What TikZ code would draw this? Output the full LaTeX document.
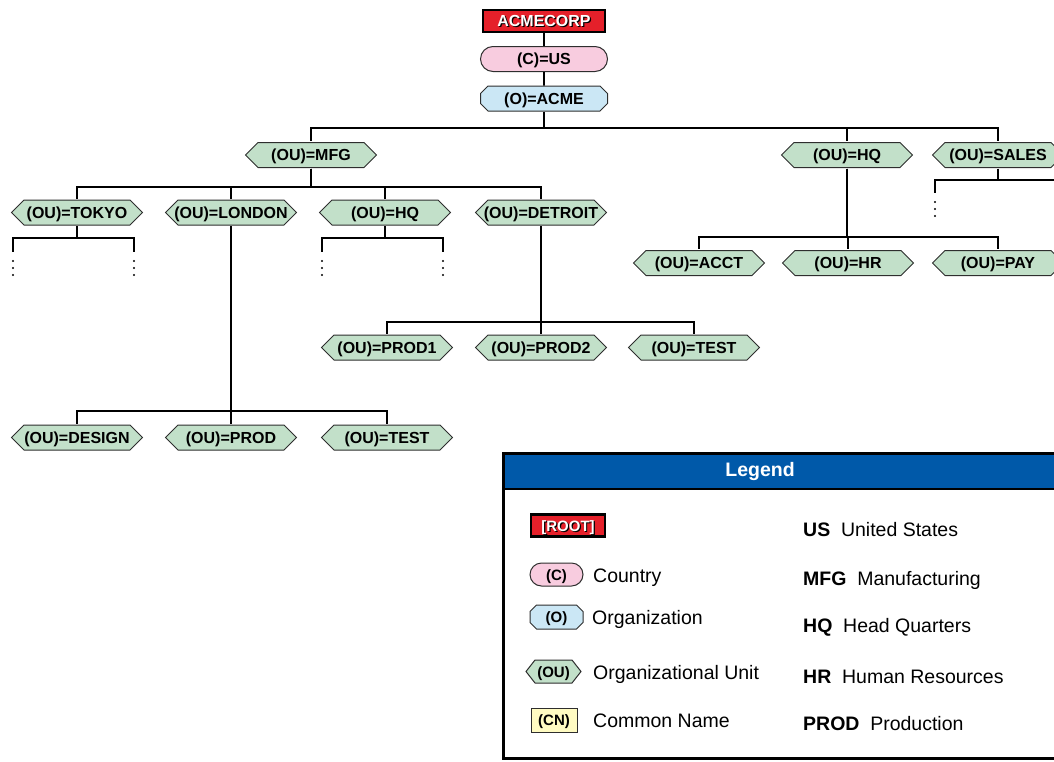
\documentclass[tikz,border=0pt]{standalone}
\usepackage{fontspec}
\setmainfont{Liberation Sans}
\usetikzlibrary{shapes.misc}

\definecolor{rootred}{HTML}{E5202A}
\definecolor{cpink}{HTML}{F8CCDF}
\definecolor{oblue}{HTML}{CBE7F5}
\definecolor{ougreen}{HTML}{C2E0C9}
\definecolor{cnyellow}{HTML}{FFFBC2}
\definecolor{legblue}{HTML}{0059A9}
\definecolor{edge}{HTML}{2E2E2E}

\newcommand\nodefont{\fontsize{16}{18}\selectfont\bfseries}
\newcommand\smallnodefont{\fontsize{15}{17}\selectfont\bfseries}
\newcommand\legfont{\fontsize{19.5}{22}\selectfont}
% white lettering with a dark offset copy behind it
\newcommand\shadowtxt[1]{\makebox[0pt][l]{\kern1.2pt\raisebox{-1.2pt}{\textcolor{black}{#1}}}\textcolor{white}{#1}}
% pointed (hexagonal) outline drawn inside the node's box; #1 = depth of the points
\newcommand\hexfill[1]{%
  \filldraw[fill=ougreen, draw=edge, line width=1pt]
    ([xshift=1pt]path picture bounding box.west)
 -- ([xshift=#1, yshift=-1pt]path picture bounding box.north west)
 -- ([xshift=-#1, yshift=-1pt]path picture bounding box.north east)
 -- ([xshift=-1pt]path picture bounding box.east)
 -- ([xshift=-#1, yshift=1pt]path picture bounding box.south east)
 -- ([xshift=#1, yshift=1pt]path picture bounding box.south west)
 -- cycle;}

\tikzset{
  base/.style={font=\nodefont, inner sep=0pt, text height=11.5pt, text depth=0pt},
  rootbox/.style={base, rectangle, fill=rootred, draw=black, line width=2.5pt,
    minimum width=122pt, minimum height=22pt},
  pill/.style={base, rounded rectangle, fill=cpink, draw=edge, line width=1pt,
    minimum width=127pt, minimum height=25pt},
  org/.style={base, chamfered rectangle, chamfered rectangle xsep=4pt,
    fill=oblue, draw=edge, line width=1pt, minimum width=127pt, minimum height=25pt},
  ou/.style={base, rectangle, minimum width=133pt, minimum height=27pt,
    path picture={\hexfill{#1}}},
  ou/.default=13.5pt,
  cn/.style={base, rectangle, fill=cnyellow, draw=edge, line width=1pt,
    minimum width=46pt, minimum height=24pt},
  tree/.style={line width=1.8pt, draw=black},
  dot/.style={fill=black},
  legtext/.style={font=\legfont, inner sep=0pt, anchor=west, text height=14pt, text depth=0pt},
}

\begin{document}
\begin{tikzpicture}[x=1pt, y=-1pt]
\useasboundingbox (0,0) rectangle (1054,761);
\clip (0,0) rectangle (1054,761);

% ---------- directory tree ----------
\node[rootbox] (corp) at (544,21) {\shadowtxt{ACMECORP}};
\node[pill] (us) at (544,59) {(C)=US};
\node[org] (acme) at (544,98.5) {(O)=ACME};

\node[ou] (mfg) at (311,155) {(OU)=MFG};
\node[ou] (hqr) at (847,155) {(OU)=HQ};
\node[ou] (sales) at (998,155) {(OU)=SALES};

\node[ou] (tokyo) at (77,212.5) {(OU)=TOKYO};
\node[ou] (london) at (231,212.5) {(OU)=LONDON};
\node[ou] (hqm) at (385,212.5) {(OU)=HQ};
\node[ou] (detroit) at (541,212.5) {(OU)=DETROIT};

\node[ou] (acct) at (699,263) {(OU)=ACCT};
\node[ou] (hr) at (848,263) {(OU)=HR};
\node[ou] (pay) at (998,263) {(OU)=PAY};

\node[ou] (prod1) at (387,347.5) {(OU)=PROD1};
\node[ou] (prod2) at (541,347.5) {(OU)=PROD2};
\node[ou] (test1) at (694,347.5) {(OU)=TEST};

\node[ou] (design) at (77,437.5) {(OU)=DESIGN};
\node[ou] (prod) at (231,437.5) {(OU)=PROD};
\node[ou] (test2) at (387,437.5) {(OU)=TEST};

% bus levels
\coordinate (b0) at (0,128);
\coordinate (bM) at (0,187);
\coordinate (bT) at (0,238);
\coordinate (bS) at (0,180);
\coordinate (bH) at (0,237);
\coordinate (bD) at (0,322);
\coordinate (bL) at (0,411);

% open branches
\coordinate (tk1) at (13,252);
\coordinate (tk2) at (134,252);
\coordinate (hm1) at (322,252);
\coordinate (hm2) at (443,252);
\coordinate (sl1) at (935,193);
\coordinate (slR) at (1064,180);

\draw[tree] (corp) -- (us);
\draw[tree] (us) -- (acme);

\draw[tree] (acme.south) -- (acme.south |- b0) -| (mfg.north);
\draw[tree] (acme.south |- b0) -| (hqr.north);
\draw[tree] (acme.south |- b0) -| (sales.north);

\foreach \c in {tokyo,london,hqm,detroit}
  \draw[tree] (mfg.south) -- (mfg.south |- bM) -| (\c.north);

\foreach \c in {tk1,tk2}
  \draw[tree] (tokyo.south) -- (tokyo.south |- bT) -| (\c);
\foreach \c in {hm1,hm2}
  \draw[tree] (hqm.south) -- (hqm.south |- bT) -| (\c);

\draw[tree] (sales.south) -- (sales.south |- bS) -| (sl1);
\draw[tree] (sales.south |- bS) -- (slR);

\foreach \c in {acct,hr,pay}
  \draw[tree] (hqr.south) -- (hqr.south |- bH) -| (\c.north);

\foreach \c in {prod1,prod2,test1}
  \draw[tree] (detroit.south) -- (detroit.south |- bD) -| (\c.north);

\foreach \c in {design,prod,test2}
  \draw[tree] (london.south) -- (london.south |- bL) -| (\c.north);

% continuation dots
\foreach \c in {tk1,tk2,hm1,hm2,sl1}
  \foreach \d in {9,16,23}
    \fill[dot] ([yshift=-\d pt]\c) circle (1.1pt);

% ---------- legend ----------
\fill[white] (503,453) rectangle (1064,758);
\fill[legblue] (503,453) rectangle (1064,489);
\draw[line width=2.5pt] (503,489) -- (1064,489);
\draw[line width=3pt] (503,453) rectangle (1064,758);
\node[font=\fontsize{19.5}{22}\selectfont\bfseries, text=white, inner sep=0pt] (legtitle) at (760,471) {Legend};

\node[rootbox, font=\smallnodefont, minimum width=74pt, minimum height=22pt] (lroot) at (568,525.5) {\shadowtxt{[ROOT]}};
\node[pill, font=\smallnodefont, minimum width=53pt, minimum height=23pt] (lc) at (556.5,574.5) {(C)};
\node[org, font=\smallnodefont, chamfered rectangle xsep=3pt, minimum width=53pt, minimum height=24pt] (lo) at (556.5,617) {(O)};
\node[ou=10pt, font=\smallnodefont, minimum width=57pt, minimum height=25pt] (lou) at (553.5,671.5) {(OU)};
\node[cn, font=\smallnodefont] (lcn) at (554,720) {(CN)};

\node[legtext] (tc) at (593,575) {Country};
\node[legtext] (to) at (592,617) {Organization};
\node[legtext] (tou) at (593,672) {Organizational Unit};
\node[legtext] (tcn) at (593,720) {Common Name};

\node[legtext] (aus) at (803,529) {\textbf{US}\hspace{0.55em}United States};
\node[legtext] (amfg) at (803,578) {\textbf{MFG}\hspace{0.55em}Manufacturing};
\node[legtext] (ahq) at (803,625) {\textbf{HQ}\hspace{0.55em}Head Quarters};
\node[legtext] (ahr) at (803,676) {\textbf{HR}\hspace{0.55em}Human Resources};
\node[legtext] (aprod) at (803,723) {\textbf{PROD}\hspace{0.55em}Production};
\end{tikzpicture}
\end{document}
